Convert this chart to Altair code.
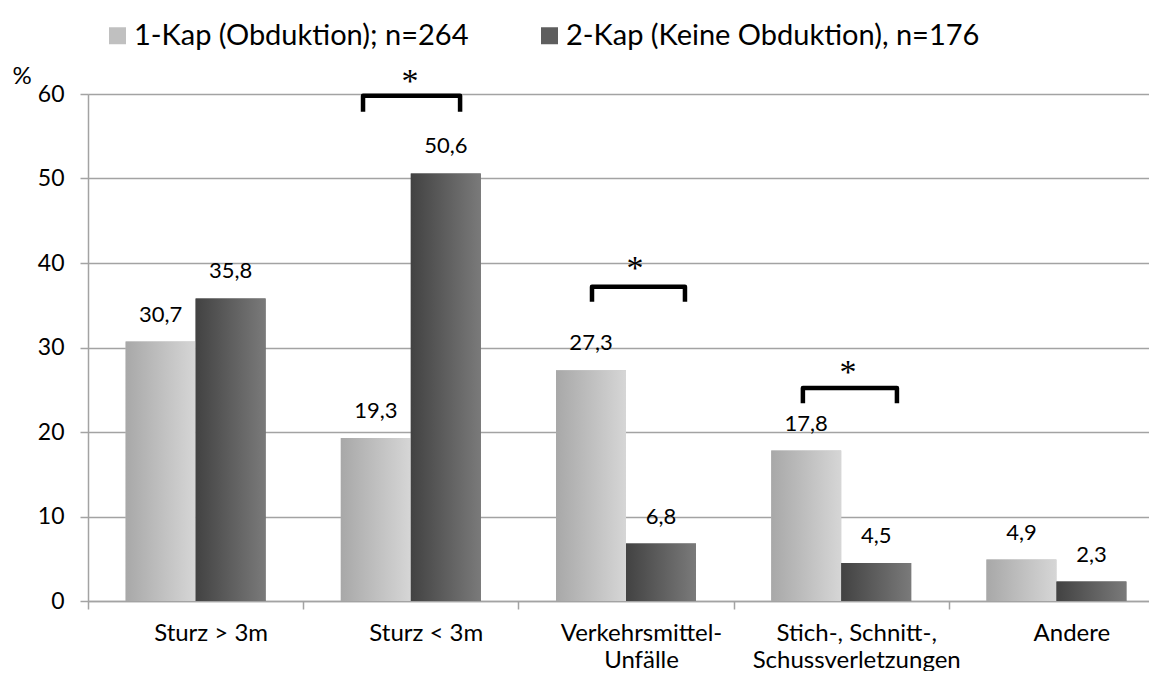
import altair as alt
import pandas as pd

# ---------------- data ----------------
categories = [
    "Sturz > 3m",
    "Sturz < 3m",
    "Verkehrsmittel-\nUnfälle",
    "Stich-, Schnitt-,\nSchussverletzungen",
    "Andere",
]
series = ["1-Kap (Obduktion); n=264", "2-Kap (Keine Obduktion), n=176"]
values_1kap = [30.7, 19.3, 27.3, 17.8, 4.9]
values_2kap = [35.8, 50.6, 6.8, 4.5, 2.3]

# significance brackets (category, horizontal extent as fraction of the category band, heights in %)
sig_categories = [categories[1], categories[2], categories[3]]
sig_left = [0.278, 0.342, 0.322]
sig_right = [0.729, 0.774, 0.759]
sig_star_x = [0.496, 0.542, 0.532]
sig_top = [59.8, 37.2, 25.2]
sig_leg = [57.9, 35.4, 23.4]
sig_star_y = [62.0, 39.9, 27.6]
sig_mark = ["*", "*", "*"]

# ---------------- tables ----------------
rows = []
for c, v in zip(categories, values_1kap):
    rows.append({"cat": c, "series": series[0], "value": v})
for c, v in zip(categories, values_2kap):
    rows.append({"cat": c, "series": series[1], "value": v})
df = pd.DataFrame(rows)

brows = []
for g, (c, l, r, t, lg) in enumerate(zip(sig_categories, sig_left, sig_right, sig_top, sig_leg)):
    idx = categories.index(c)
    pts = [(idx + l, lg), (idx + l, t), (idx + r, t), (idx + r, lg)]
    for s, (p, v) in enumerate(pts):
        brows.append({"grp": g, "seq": s, "pos": p, "value": v})
bdf = pd.DataFrame(brows)

sdf = pd.DataFrame({
    "pos": [categories.index(c) + f for c, f in zip(sig_categories, sig_star_x)],
    "value": sig_star_y,
    "mark": sig_mark,
})

# ---------------- styling ----------------
GRAY = "#a3a3a3"
PLOT_W = 1061
RANGE_W = 1076
PLOT_H = 507

yscale = alt.Scale(domain=[0, 60], nice=False, zero=True)
yaxis = alt.Axis(
    values=[0, 10, 20, 30, 40, 50, 60],
    title="%", titleAngle=0, titleAlign="left", titleBaseline="alphabetic",
    titleX=-76, titleY=-11, titleFont="Lato", titleFontSize=24,
    titleFontWeight="normal", titleColor="#000",
    labelFont="Lato", labelFontSize=23, labelColor="#000", labelPadding=16,
    tickSize=8, tickColor=GRAY, tickWidth=1.5,
    domainColor=GRAY, domainWidth=1.5,
    grid=True, gridColor=GRAY, gridWidth=1.5,
)
xscale = alt.Scale(domain=categories, range=[0, RANGE_W], paddingInner=0, paddingOuter=0)
xaxis = alt.Axis(
    title=None, labelExpr="split(datum.label, '\\n')",
    labelFont="Lato", labelFontSize=24, labelColor="#000",
    labelOffset=15, labelPadding=12, labelLineHeight=27, labelAngle=0,
    labelLimit=500, labelOverlap=False, labelBound=False,
    tickBand="extent", tickSize=8, tickColor=GRAY, tickWidth=1.5,
    domainColor=GRAY, domainWidth=1.5, grid=False,
)
xoff = alt.XOffset("series:N", sort=series,
                   scale=alt.Scale(domain=series, paddingInner=0, paddingOuter=0.5375))

X = alt.X("cat:N", sort=categories, scale=xscale, axis=xaxis)
Y = alt.Y("value:Q", scale=yscale, axis=yaxis)

grad_light = alt.Gradient(
    gradient="linear", x1=0, x2=1, y1=0, y2=0,
    stops=[alt.GradientStop(color="#a8a8a8", offset=0),
           alt.GradientStop(color="#d6d6d6", offset=1)],
)
grad_dark = alt.Gradient(
    gradient="linear", x1=0, x2=1, y1=0, y2=0,
    stops=[alt.GradientStop(color="#424242", offset=0),
           alt.GradientStop(color="#7a7a7a", offset=1)],
)

base = alt.Chart(df).mark_bar().encode(
    x=X, xOffset=xoff, y=Y,
    color=alt.Color(
        "series:N",
        scale=alt.Scale(domain=series, range=["#c0c0c0", "#5e5e5e"]),
        legend=alt.Legend(
            title=None, orient="none", legendX=15, legendY=-73,
            direction="horizontal", columns=2, symbolType="square",
            symbolSize=289, symbolStrokeWidth=0, labelFont="Lato",
            labelFontSize=29, labelColor="#000", labelOffset=2,
            columnPadding=66, padding=0, labelLimit=600,
        ),
    ),
)

light = alt.Chart(df).transform_filter(
    alt.datum.series == series[0]
).mark_bar(fill=grad_light, strokeWidth=0).encode(x=X, xOffset=xoff, y=Y)

dark = alt.Chart(df).transform_filter(
    alt.datum.series == series[1]
).mark_bar(fill=grad_dark, strokeWidth=0).encode(x=X, xOffset=xoff, y=Y)

labels = alt.Chart(df).transform_calculate(
    label="replace(format(datum.value, '.1f'), '.', ',')"
).mark_text(font="Lato", fontSize=22, dy=-20, baseline="alphabetic", color="#000").encode(
    x=X, xOffset=xoff, y=Y, text="label:N"
)

bars = alt.layer(base, light, dark, labels)

qx = alt.Scale(domain=[0, 5], range=[0, RANGE_W], nice=False, zero=False)

brackets = alt.Chart(bdf).mark_line(
    color="#000", strokeWidth=4.5, strokeJoin="round", strokeCap="butt"
).encode(
    x=alt.X("pos:Q", scale=qx, axis=None),
    y=Y,
    detail="grp:N",
    order="seq:Q",
)

stars = alt.Chart(sdf).mark_text(
    font="Liberation Serif", fontSize=34, baseline="alphabetic", dy=15, color="#000"
).encode(
    x=alt.X("pos:Q", scale=qx, axis=None),
    y=Y,
    text="mark:N",
)

chart = alt.layer(bars, brackets, stars).resolve_scale(x="independent").properties(
    width=PLOT_W, height=PLOT_H,
    autosize=alt.AutoSizeParams(type="none"),
    padding={"left": 80, "top": 86, "right": 0, "bottom": 70},
).configure_view(stroke=None).configure(background="white")

chart.save("out.html", embed_options={"renderer": "svg", "actions": False})
